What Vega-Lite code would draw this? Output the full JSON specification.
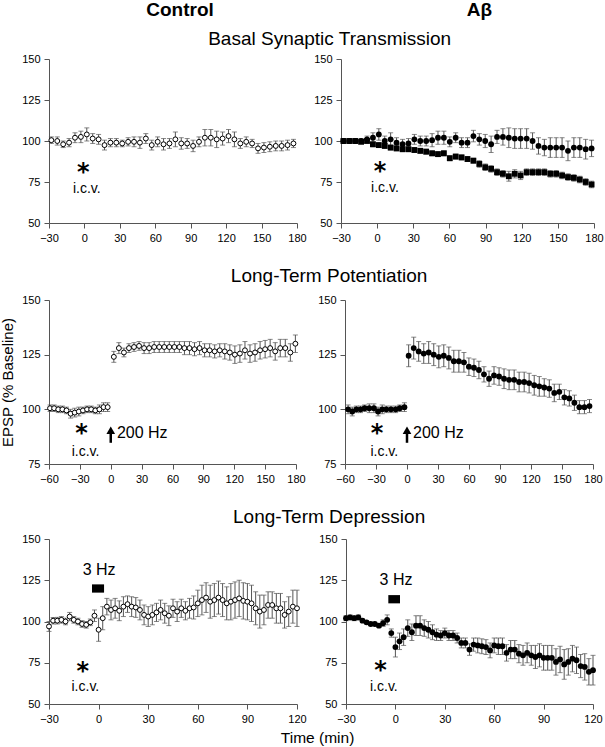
{
  "$schema": "https://vega.github.io/schema/vega-lite/v6.json",
  "padding": {"left": 0, "top": 1, "right": 0, "bottom": 0},
  "config": {
    "font": "Liberation Sans",
    "view": {"stroke": null},
    "axis": {"grid": false, "domainColor": "#555", "tickColor": "#555", "labelColor": "#000", "labelFontSize": 11, "tickSize": 5, "labelPadding": 4, "titleFontWeight": "normal", "titleColor": "#000", "labelFlush": false, "labelOverlap": false},
    "title": {"color": "#000", "fontWeight": "normal"}
  },
  "datasets": {
    "bc": [
      {"t":-28,"v":100.5,"e":2},{"t":-23,"v":100,"e":2.5},{"t":-18,"v":98,"e":2},{"t":-13,"v":99,"e":2.5},{"t":-8,"v":102,"e":3},{"t":-3,"v":102.5,"e":3.5},{"t":2,"v":104,"e":4},{"t":7,"v":101.5,"e":3},{"t":12,"v":101,"e":3},{"t":17,"v":97.5,"e":3},
      {"t":22,"v":99,"e":2.5},{"t":27,"v":99,"e":2.5},{"t":32,"v":98.5,"e":2},{"t":37,"v":99.5,"e":2.5},{"t":42,"v":99.5,"e":3},{"t":47,"v":99,"e":3.5},{"t":52,"v":101.5,"e":3},{"t":57,"v":97.5,"e":3},{"t":62,"v":99.5,"e":3},{"t":67,"v":98,"e":3.5},
      {"t":72,"v":98.5,"e":3},{"t":77,"v":101,"e":4.5},{"t":82,"v":98.5,"e":3.5},{"t":87,"v":98.5,"e":3},{"t":92,"v":97,"e":3.5},{"t":97,"v":99.5,"e":3},{"t":102,"v":102,"e":5},{"t":107,"v":102,"e":5},{"t":112,"v":101,"e":5},{"t":117,"v":101.5,"e":4},
      {"t":122,"v":103,"e":4},{"t":127,"v":101,"e":4.5},{"t":132,"v":98.5,"e":3},{"t":137,"v":99.5,"e":3},{"t":142,"v":98.5,"e":2.5},{"t":147,"v":95.5,"e":3},{"t":152,"v":96,"e":3},{"t":157,"v":96.5,"e":3},{"t":162,"v":97,"e":3},{"t":167,"v":97,"e":3},
      {"t":172,"v":97.5,"e":3},{"t":177,"v":98.5,"e":2.5}
    ],
    "ba": [
      {"s":"c","t":-28,"v":100,"e":1.5},{"s":"c","t":-23.1,"v":100,"e":1.5},{"s":"c","t":-18.2,"v":100,"e":1.5},{"s":"c","t":-13.3,"v":100,"e":1.5},{"s":"c","t":-8.4,"v":101,"e":2},{"s":"c","t":-3.5,"v":102,"e":3},{"s":"c","t":1.4,"v":104,"e":3.5},{"s":"c","t":6.3,"v":100,"e":3},{"s":"c","t":11.2,"v":101,"e":4},{"s":"c","t":16.1,"v":99,"e":3},
      {"s":"c","t":21.1,"v":98,"e":3},{"s":"c","t":26,"v":98.5,"e":3},{"s":"c","t":30.9,"v":101,"e":3},{"s":"c","t":35.8,"v":100,"e":3},{"s":"c","t":40.7,"v":100,"e":3},{"s":"c","t":45.6,"v":100.5,"e":4},{"s":"c","t":50.5,"v":102,"e":4},{"s":"c","t":55.4,"v":102,"e":4},{"s":"c","t":60.3,"v":99.5,"e":3},{"s":"c","t":65.2,"v":102,"e":3},
      {"s":"c","t":70.1,"v":99,"e":3},{"s":"c","t":75,"v":99,"e":3},{"s":"c","t":79.9,"v":103,"e":3.5},{"s":"c","t":84.8,"v":101,"e":3.5},{"s":"c","t":89.7,"v":100,"e":4},{"s":"c","t":94.6,"v":98,"e":5},{"s":"c","t":99.5,"v":102.5,"e":4},{"s":"c","t":104.4,"v":102.5,"e":5},{"s":"c","t":109.3,"v":102,"e":6},{"s":"c","t":114.2,"v":101.5,"e":6},
      {"s":"c","t":119.1,"v":101.5,"e":6},{"s":"c","t":124.1,"v":101.5,"e":6},{"s":"c","t":129,"v":100,"e":5},{"s":"c","t":133.9,"v":97,"e":5},{"s":"c","t":138.8,"v":96,"e":5},{"s":"c","t":143.7,"v":96,"e":6},{"s":"c","t":148.6,"v":96,"e":6},{"s":"c","t":153.5,"v":96,"e":6},{"s":"c","t":158.4,"v":94,"e":6},{"s":"c","t":163.3,"v":96,"e":6},
      {"s":"c","t":168.2,"v":96,"e":6},{"s":"c","t":173.1,"v":95,"e":6},{"s":"c","t":178,"v":95.5,"e":5},
      {"s":"q","t":-28,"v":100,"e":1},{"s":"q","t":-23.1,"v":100,"e":1},{"s":"q","t":-18.2,"v":100,"e":1},{"s":"q","t":-13.3,"v":99.5,"e":1},{"s":"q","t":-8.4,"v":100,"e":1},{"s":"q","t":-3.5,"v":98,"e":1.5},{"s":"q","t":1.4,"v":97.5,"e":1.5},{"s":"q","t":6.3,"v":97,"e":1.5},{"s":"q","t":11.2,"v":96,"e":1.5},{"s":"q","t":16.1,"v":95.5,"e":1.5},
      {"s":"q","t":21.1,"v":95,"e":1.5},{"s":"q","t":26,"v":95,"e":1.5},{"s":"q","t":30.9,"v":94.5,"e":1.5},{"s":"q","t":35.8,"v":94,"e":1.5},{"s":"q","t":40.7,"v":93.5,"e":1.5},{"s":"q","t":45.6,"v":92.5,"e":1.5},{"s":"q","t":50.5,"v":92,"e":1.5},{"s":"q","t":55.4,"v":92.5,"e":1.5},{"s":"q","t":60.3,"v":89.5,"e":1.5},{"s":"q","t":65.2,"v":90.5,"e":1.5},
      {"s":"q","t":70.1,"v":90,"e":1.5},{"s":"q","t":75,"v":89,"e":1.5},{"s":"q","t":79.9,"v":88,"e":1.5},{"s":"q","t":84.8,"v":86,"e":2},{"s":"q","t":89.7,"v":84,"e":2},{"s":"q","t":94.6,"v":83,"e":2},{"s":"q","t":99.5,"v":81,"e":2},{"s":"q","t":104.4,"v":80,"e":2},{"s":"q","t":109.3,"v":78.5,"e":3},{"s":"q","t":114.2,"v":80,"e":2.5},
      {"s":"q","t":119.1,"v":79,"e":2.5},{"s":"q","t":124.1,"v":81,"e":2},{"s":"q","t":129,"v":81,"e":2},{"s":"q","t":133.9,"v":81,"e":2},{"s":"q","t":138.8,"v":81,"e":2},{"s":"q","t":143.7,"v":80,"e":2},{"s":"q","t":148.6,"v":80,"e":2},{"s":"q","t":153.5,"v":79,"e":2},{"s":"q","t":158.4,"v":78,"e":2},{"s":"q","t":163.3,"v":77.5,"e":2},
      {"s":"q","t":168.2,"v":76.5,"e":2},{"s":"q","t":173.1,"v":75,"e":2},{"s":"q","t":178,"v":73.5,"e":2}
    ],
    "lc": [
      {"t":-59,"v":100.5,"e":1.5},{"t":-55,"v":100.5,"e":1.5},{"t":-51,"v":100,"e":1.5},{"t":-47,"v":100,"e":1.5},{"t":-43,"v":99.5,"e":1.5},{"t":-39,"v":98,"e":2},{"t":-35,"v":98.5,"e":2},{"t":-31,"v":99,"e":2},{"t":-27,"v":99.5,"e":1.5},{"t":-23,"v":100,"e":1.5},
      {"t":-19,"v":100,"e":1.5},{"t":-15,"v":99.5,"e":1.5},{"t":-11,"v":100,"e":2},{"t":-7,"v":101,"e":2},{"t":-3,"v":101,"e":2},
      {"t":3,"v":124,"e":2.5},{"t":7.9,"v":128,"e":2.5},{"t":12.8,"v":126,"e":2},{"t":17.7,"v":128,"e":2},{"t":22.6,"v":128.5,"e":2},{"t":27.5,"v":129,"e":2},{"t":32.4,"v":128,"e":2.5},{"t":37.3,"v":128,"e":2.5},{"t":42.2,"v":128.5,"e":2.5},{"t":47.1,"v":128.5,"e":2.5},
      {"t":52,"v":128.5,"e":2.5},{"t":56.9,"v":128.5,"e":2.5},{"t":61.8,"v":128.5,"e":2.5},{"t":66.7,"v":128.5,"e":2.5},{"t":71.6,"v":128,"e":3},{"t":76.5,"v":128,"e":3},{"t":81.4,"v":127.5,"e":3},{"t":86.3,"v":128,"e":3},{"t":91.2,"v":127,"e":3},{"t":96.1,"v":127,"e":3},
      {"t":101,"v":126.5,"e":3},{"t":105.9,"v":127,"e":3},{"t":110.8,"v":126.5,"e":3.5},{"t":115.7,"v":126,"e":3.5},{"t":120.6,"v":125,"e":4},{"t":125.5,"v":125.5,"e":4},{"t":130.4,"v":127,"e":4},{"t":135.3,"v":125.5,"e":4},{"t":140.2,"v":126,"e":4},{"t":145.1,"v":127,"e":4},
      {"t":150,"v":127.5,"e":4},{"t":154.9,"v":128,"e":4},{"t":159.8,"v":126.5,"e":4},{"t":164.7,"v":128,"e":4},{"t":169.6,"v":128,"e":4},{"t":174.5,"v":126,"e":4},{"t":179.4,"v":130,"e":4}
    ],
    "la": [
      {"t":-57,"v":100,"e":2},{"t":-53,"v":99,"e":2},{"t":-49,"v":100,"e":1.5},{"t":-45,"v":100,"e":1.5},{"t":-41,"v":100.5,"e":1.5},{"t":-36.5,"v":100.5,"e":2},{"t":-32,"v":100.5,"e":2},{"t":-28,"v":99,"e":2},{"t":-24,"v":100,"e":2},{"t":-20,"v":100,"e":1.5},
      {"t":-15.5,"v":100,"e":1.5},{"t":-11,"v":100,"e":1.5},{"t":-7,"v":100.5,"e":1.5},{"t":-2.5,"v":101,"e":2},
      {"t":1.6,"v":124.5,"e":5},{"t":6.5,"v":128,"e":5},{"t":11.3,"v":126.5,"e":4.5},{"t":16.2,"v":125.5,"e":4.5},{"t":21,"v":126,"e":5},{"t":25.9,"v":125,"e":5},{"t":30.8,"v":124,"e":5},{"t":35.6,"v":124.5,"e":5},{"t":40.5,"v":123.5,"e":5},{"t":45.3,"v":122,"e":5},
      {"t":50.2,"v":122,"e":5},{"t":55.1,"v":121.5,"e":4.5},{"t":59.9,"v":119.5,"e":4},{"t":64.8,"v":119,"e":4},{"t":69.6,"v":118,"e":4},{"t":74.5,"v":116,"e":3.5},{"t":79.4,"v":114,"e":3.5},{"t":84.2,"v":115.5,"e":4},{"t":89.1,"v":115,"e":4},{"t":93.9,"v":114,"e":4.5},
      {"t":98.8,"v":113.5,"e":4.5},{"t":103.7,"v":113.5,"e":4.5},{"t":108.5,"v":112.5,"e":4.5},{"t":113.4,"v":112.5,"e":4.5},{"t":118.2,"v":112,"e":4.5},{"t":123.1,"v":111,"e":4.5},{"t":128,"v":110.5,"e":4.5},{"t":132.8,"v":110,"e":4},{"t":137.7,"v":109.5,"e":4},{"t":142.5,"v":107.5,"e":4},
      {"t":147.4,"v":108,"e":3.5},{"t":152.3,"v":105.5,"e":3.5},{"t":157.1,"v":105,"e":3.5},{"t":162,"v":103,"e":3.5},{"t":166.8,"v":101,"e":3},{"t":171.7,"v":101,"e":3},{"t":176.6,"v":101.5,"e":3}
    ],
    "dc": [
      {"t":-30,"v":97,"e":3},{"t":-27.5,"v":100.5,"e":2},{"t":-25,"v":100.5,"e":2},{"t":-22.5,"v":101,"e":2},{"t":-20,"v":100,"e":2},{"t":-17.5,"v":103,"e":2.5},{"t":-15,"v":101,"e":2},{"t":-12.5,"v":100,"e":2},{"t":-10,"v":98.5,"e":2},{"t":-7.5,"v":98,"e":2},
      {"t":-5,"v":99.5,"e":2},{"t":-2.5,"v":103.5,"e":3.5},{"t":0,"v":95,"e":7},{"t":2.5,"v":102,"e":7},{"t":5,"v":109,"e":5},{"t":7.5,"v":107,"e":6},{"t":10,"v":108,"e":6},{"t":12.5,"v":106.5,"e":6},{"t":15,"v":109,"e":6},{"t":17.5,"v":110.5,"e":5},
      {"t":20,"v":109,"e":6},{"t":22.5,"v":108.5,"e":6},{"t":25,"v":107,"e":6},{"t":27.5,"v":104,"e":6},{"t":30,"v":103,"e":6},{"t":32.5,"v":104,"e":6},{"t":35,"v":105.5,"e":5.5},{"t":37.5,"v":107,"e":6},{"t":40,"v":105,"e":6},{"t":42.5,"v":103.5,"e":6},
      {"t":45,"v":108,"e":5.5},{"t":47.5,"v":106,"e":6},{"t":50,"v":108,"e":5.5},{"t":52.5,"v":106.5,"e":5.5},{"t":55,"v":108,"e":6},{"t":57.5,"v":108.5,"e":7},{"t":60,"v":111,"e":8},{"t":62.5,"v":113,"e":9},{"t":65,"v":114.5,"e":9},{"t":67.5,"v":112,"e":10},
      {"t":70,"v":113,"e":10},{"t":72.5,"v":114.5,"e":10},{"t":75,"v":113,"e":10},{"t":77.5,"v":111,"e":10},{"t":80,"v":112,"e":11},{"t":82.5,"v":113,"e":11},{"t":85,"v":114,"e":11},{"t":87.5,"v":112.5,"e":11},{"t":90,"v":112,"e":11},{"t":92.5,"v":111,"e":11},
      {"t":95,"v":108,"e":10},{"t":97.5,"v":106,"e":10},{"t":100,"v":107,"e":9},{"t":102.5,"v":110,"e":8},{"t":105,"v":110,"e":8},{"t":107.5,"v":108,"e":9},{"t":110,"v":108,"e":9},{"t":112.5,"v":104,"e":8},{"t":115,"v":106,"e":9},{"t":117.5,"v":109,"e":10},
      {"t":120,"v":108,"e":11}
    ],
    "da": [
      {"t":-30,"v":102,"e":1.5},{"t":-27.5,"v":102.5,"e":1.5},{"t":-25,"v":102,"e":1.5},{"t":-22.5,"v":102.5,"e":1.5},{"t":-20,"v":100.5,"e":1},{"t":-17.5,"v":99.5,"e":1},{"t":-15,"v":98.5,"e":1},{"t":-12.5,"v":98.5,"e":1},{"t":-10,"v":97.5,"e":1},{"t":-7.5,"v":99,"e":2},
      {"t":-5,"v":101,"e":3},{"t":-2.5,"v":93,"e":2.5},{"t":0,"v":84.5,"e":6},{"t":2.5,"v":88,"e":5},{"t":5,"v":90.5,"e":5},{"t":7.5,"v":96,"e":5},{"t":10,"v":93.5,"e":5},{"t":12.5,"v":97.5,"e":6},{"t":15,"v":97.5,"e":6},{"t":17.5,"v":96,"e":5},
      {"t":20,"v":95,"e":5},{"t":22.5,"v":93.5,"e":4.5},{"t":25,"v":92,"e":3.5},{"t":27.5,"v":91.5,"e":3},{"t":30,"v":93,"e":3},{"t":32.5,"v":91.5,"e":3},{"t":35,"v":91.5,"e":3},{"t":37.5,"v":90,"e":3},{"t":40,"v":87,"e":3},{"t":42.5,"v":87,"e":3},
      {"t":45,"v":83,"e":3.5},{"t":47.5,"v":86,"e":4},{"t":50,"v":85.5,"e":4.5},{"t":52.5,"v":85,"e":4.5},{"t":55,"v":84.5,"e":4.5},{"t":57.5,"v":82.5,"e":4.5},{"t":60,"v":85.5,"e":4.5},{"t":62.5,"v":85,"e":5},{"t":65,"v":85,"e":5},{"t":67.5,"v":81,"e":5},
      {"t":70,"v":83,"e":5.5},{"t":72.5,"v":83,"e":5.5},{"t":75,"v":80.5,"e":5.5},{"t":77.5,"v":79.5,"e":6},{"t":80,"v":81,"e":6},{"t":82.5,"v":79.5,"e":6},{"t":85,"v":78.5,"e":7},{"t":87.5,"v":79.5,"e":7},{"t":90,"v":78,"e":7.5},{"t":92.5,"v":78,"e":7.5},
      {"t":95,"v":78,"e":7.5},{"t":97.5,"v":75.5,"e":8},{"t":100,"v":77,"e":8},{"t":102.5,"v":74,"e":9},{"t":105,"v":75.5,"e":8},{"t":107.5,"v":77.5,"e":8},{"t":110,"v":76.5,"e":8},{"t":112.5,"v":73,"e":7},{"t":115,"v":72.5,"e":8},{"t":117.5,"v":69.5,"e":8},
      {"t":120,"v":70.5,"e":9}
    ],
    "ann": [
      {"p":"bc","k":"star","t":-1,"v":83.5,"label":"*"},
      {"p":"bc","k":"icv","t":2,"v":71,"label":"i.c.v."},
      {"p":"ba","k":"star","t":2.5,"v":84,"label":"*"},
      {"p":"ba","k":"icv","t":6.5,"v":71.5,"label":"i.c.v."},
      {"p":"lc","k":"star","t":-28.5,"v":91,"label":"*"},
      {"p":"lc","k":"icv","t":-24.5,"v":80.3,"label":"i.c.v."},
      {"p":"lc","k":"hzl","t":6,"v":89,"label":"200 Hz"},
      {"p":"lc","k":"shaft","t":0,"v":84.7,"v2":89},
      {"p":"lc","k":"head","t":0,"v":90.4},
      {"p":"la","k":"star","t":-29,"v":91,"label":"*"},
      {"p":"la","k":"icv","t":-22,"v":80.3,"label":"i.c.v."},
      {"p":"la","k":"hzl","t":5.8,"v":89,"label":"200 Hz"},
      {"p":"la","k":"shaft","t":0,"v":84.7,"v2":89},
      {"p":"la","k":"head","t":0,"v":90.4},
      {"p":"dc","k":"hzc","t":0.3,"v":131.5,"label":"3 Hz"},
      {"p":"dc","k":"block","t":-4,"t2":3.3,"v":117.5,"v2":122.5},
      {"p":"dc","k":"star","t":-9.6,"v":72.6,"label":"*"},
      {"p":"dc","k":"icv","t":-8,"v":60.3,"label":"i.c.v."},
      {"p":"da","k":"hzc","t":0.4,"v":125,"label":"3 Hz"},
      {"p":"da","k":"block","t":-4.3,"t2":2.8,"v":111,"v2":116},
      {"p":"da","k":"star","t":-9.1,"v":73,"label":"*"},
      {"p":"da","k":"icv","t":-7,"v":60.3,"label":"i.c.v."}
    ]
  },
  "title": {"text": "Time (min)", "orient": "bottom", "fontSize": 15.5, "offset": 7, "dx": 16, "anchor": "middle"},
  "spacing": 24,
  "vconcat": [
    {
      "hconcat": [
        {
          "width": 248, "height": 164,
          "title": {"text": "Control", "fontSize": 19, "fontWeight": "bold", "offset": 33, "frame": "group", "dx": 7},
          "encoding": {
            "x": {"field": "t", "type": "quantitative", "title": null, "scale": {"domain": [-30, 180], "nice": false, "zero": false}, "axis": {"values": [-30, 0, 30, 60, 90, 120, 150, 180]}},
            "y": {"field": "v", "type": "quantitative", "title": null, "scale": {"domain": [50, 150], "nice": false, "zero": false}, "axis": {"values": [50, 75, 100, 125, 150], "minExtent": 49, "maxExtent": 49}}
          },
          "layer": [
            {"data": {"name": "bc"}, "mark": {"type": "errorbar", "ticks": {"size": 5}, "color": "#555"}, "encoding": {"yError": {"field": "e"}}},
            {"data": {"name": "bc"}, "mark": {"type": "point", "shape": "circle", "filled": true, "fill": "white", "stroke": "black", "strokeWidth": 1, "size": 24, "opacity": 1}},
            {"data": {"name": "ann"}, "transform": [{"filter": "datum.p == 'bc' && datum.k == 'star'"}], "mark": {"type": "text", "font": "DejaVu Sans", "fontWeight": "bold", "fontSize": 24, "baseline": "middle", "dy": 5}, "encoding": {"text": {"field": "label"}}},
            {"data": {"name": "ann"}, "transform": [{"filter": "datum.p == 'bc' && datum.k == 'icv'"}], "mark": {"type": "text", "fontSize": 14, "baseline": "middle"}, "encoding": {"text": {"field": "label"}}}
          ]
        },
        {
          "width": 253, "height": 164,
          "title": {"text": "Aβ", "fontSize": 19, "fontWeight": "bold", "offset": 33, "frame": "group", "dx": 12},
          "encoding": {
            "x": {"field": "t", "type": "quantitative", "title": null, "scale": {"domain": [-30, 180], "nice": false, "zero": false}, "axis": {"values": [-30, 0, 30, 60, 90, 120, 150, 180]}},
            "y": {"field": "v", "type": "quantitative", "title": null, "scale": {"domain": [50, 150], "nice": false, "zero": false}, "axis": {"values": [50, 75, 100, 125, 150]}}
          },
          "layer": [
            {"data": {"name": "ba"}, "mark": {"type": "errorbar", "ticks": {"size": 5}, "color": "#555"}, "encoding": {"yError": {"field": "e"}}},
            {"data": {"name": "ba"}, "mark": {"type": "point", "filled": true, "color": "black", "size": 34, "opacity": 1}, "encoding": {"shape": {"field": "s", "type": "nominal", "scale": {"domain": ["c", "q"], "range": ["circle", "square"]}, "legend": null}}},
            {"data": {"name": "ann"}, "transform": [{"filter": "datum.p == 'ba' && datum.k == 'star'"}], "mark": {"type": "text", "font": "DejaVu Sans", "fontWeight": "bold", "fontSize": 24, "baseline": "middle", "dy": 5}, "encoding": {"text": {"field": "label"}}},
            {"data": {"name": "ann"}, "transform": [{"filter": "datum.p == 'ba' && datum.k == 'icv'"}], "mark": {"type": "text", "fontSize": 14, "baseline": "middle"}, "encoding": {"text": {"field": "label"}}}
          ]
        }
      ],
      "spacing": 44,
      "bounds": "flush",
      "title": {"text": "Basal Synaptic Transmission", "fontSize": 19, "offset": -48, "dx": 28, "anchor": "middle"}
    },
    {
      "hconcat": [
        {
          "width": 247, "height": 164,
          "encoding": {
            "x": {"field": "t", "type": "quantitative", "title": null, "scale": {"domain": [-60, 180], "nice": false, "zero": false}, "axis": {"values": [-60, -30, 0, 30, 60, 90, 120, 150, 180]}},
            "y": {"field": "v", "type": "quantitative", "scale": {"domain": [75, 150], "nice": false, "zero": false}, "axis": {"values": [75, 100, 125, 150], "title": "EPSP (% Baseline)", "titleFontSize": 15, "titlePadding": 4, "minExtent": 30, "maxExtent": 30}}
          },
          "layer": [
            {"data": {"name": "lc"}, "mark": {"type": "errorbar", "ticks": {"size": 5}, "color": "#555"}, "encoding": {"yError": {"field": "e"}}},
            {"data": {"name": "lc"}, "mark": {"type": "point", "shape": "circle", "filled": true, "fill": "white", "stroke": "black", "strokeWidth": 1, "size": 24, "opacity": 1}},
            {"data": {"name": "ann"}, "transform": [{"filter": "datum.p == 'lc' && datum.k == 'star'"}], "mark": {"type": "text", "font": "DejaVu Sans", "fontWeight": "bold", "fontSize": 24, "baseline": "middle", "dy": 5}, "encoding": {"text": {"field": "label"}}},
            {"data": {"name": "ann"}, "transform": [{"filter": "datum.p == 'lc' && datum.k == 'icv'"}], "mark": {"type": "text", "fontSize": 14, "baseline": "middle"}, "encoding": {"text": {"field": "label"}}},
            {"data": {"name": "ann"}, "transform": [{"filter": "datum.p == 'lc' && datum.k == 'hzl'"}], "mark": {"type": "text", "fontSize": 16, "baseline": "middle", "align": "left"}, "encoding": {"text": {"field": "label"}}},
            {"data": {"name": "ann"}, "transform": [{"filter": "datum.p == 'lc' && datum.k == 'shaft'"}], "mark": {"type": "rule", "strokeWidth": 2.5, "color": "black"}, "encoding": {"y2": {"field": "v2"}}},
            {"data": {"name": "ann"}, "transform": [{"filter": "datum.p == 'lc' && datum.k == 'head'"}], "mark": {"type": "point", "shape": "triangle-up", "filled": true, "color": "black", "size": 75, "opacity": 1}}
          ]
        },
        {
          "width": 248, "height": 164,
          "encoding": {
            "x": {"field": "t", "type": "quantitative", "title": null, "scale": {"domain": [-60, 180], "nice": false, "zero": false}, "axis": {"values": [-60, -30, 0, 30, 60, 90, 120, 150, 180]}},
            "y": {"field": "v", "type": "quantitative", "title": null, "scale": {"domain": [75, 150], "nice": false, "zero": false}, "axis": {"values": [75, 100, 125, 150]}}
          },
          "layer": [
            {"data": {"name": "la"}, "mark": {"type": "errorbar", "ticks": {"size": 5}, "color": "#555"}, "encoding": {"yError": {"field": "e"}}},
            {"data": {"name": "la"}, "mark": {"type": "point", "shape": "circle", "filled": true, "color": "black", "size": 34, "opacity": 1}},
            {"data": {"name": "ann"}, "transform": [{"filter": "datum.p == 'la' && datum.k == 'star'"}], "mark": {"type": "text", "font": "DejaVu Sans", "fontWeight": "bold", "fontSize": 24, "baseline": "middle", "dy": 5}, "encoding": {"text": {"field": "label"}}},
            {"data": {"name": "ann"}, "transform": [{"filter": "datum.p == 'la' && datum.k == 'icv'"}], "mark": {"type": "text", "fontSize": 14, "baseline": "middle"}, "encoding": {"text": {"field": "label"}}},
            {"data": {"name": "ann"}, "transform": [{"filter": "datum.p == 'la' && datum.k == 'hzl'"}], "mark": {"type": "text", "fontSize": 16, "baseline": "middle", "align": "left"}, "encoding": {"text": {"field": "label"}}},
            {"data": {"name": "ann"}, "transform": [{"filter": "datum.p == 'la' && datum.k == 'shaft'"}], "mark": {"type": "rule", "strokeWidth": 2.5, "color": "black"}, "encoding": {"y2": {"field": "v2"}}},
            {"data": {"name": "ann"}, "transform": [{"filter": "datum.p == 'la' && datum.k == 'head'"}], "mark": {"type": "point", "shape": "triangle-up", "filled": true, "color": "black", "size": 75, "opacity": 1}}
          ]
        }
      ],
      "spacing": 49,
      "bounds": "flush",
      "title": {"text": "Long-Term Potentiation", "fontSize": 19, "offset": 8, "dx": 28, "anchor": "middle"}
    },
    {
      "hconcat": [
        {
          "width": 248, "height": 165,
          "encoding": {
            "x": {"field": "t", "type": "quantitative", "title": null, "scale": {"domain": [-30, 120], "nice": false, "zero": false}, "axis": {"values": [-30, 0, 30, 60, 90, 120]}},
            "y": {"field": "v", "type": "quantitative", "title": null, "scale": {"domain": [50, 150], "nice": false, "zero": false}, "axis": {"values": [50, 75, 100, 125, 150], "minExtent": 49, "maxExtent": 49}}
          },
          "layer": [
            {"data": {"name": "dc"}, "mark": {"type": "errorbar", "ticks": {"size": 5}, "color": "#555"}, "encoding": {"yError": {"field": "e"}}},
            {"data": {"name": "dc"}, "mark": {"type": "point", "shape": "circle", "filled": true, "fill": "white", "stroke": "black", "strokeWidth": 1, "size": 24, "opacity": 1}},
            {"data": {"name": "ann"}, "transform": [{"filter": "datum.p == 'dc' && datum.k == 'block'"}], "mark": {"type": "rect", "color": "black"}, "encoding": {"x2": {"field": "t2"}, "y2": {"field": "v2"}}},
            {"data": {"name": "ann"}, "transform": [{"filter": "datum.p == 'dc' && datum.k == 'hzc'"}], "mark": {"type": "text", "fontSize": 16, "baseline": "middle", "align": "center"}, "encoding": {"text": {"field": "label"}}},
            {"data": {"name": "ann"}, "transform": [{"filter": "datum.p == 'dc' && datum.k == 'star'"}], "mark": {"type": "text", "font": "DejaVu Sans", "fontWeight": "bold", "fontSize": 24, "baseline": "middle", "dy": 5}, "encoding": {"text": {"field": "label"}}},
            {"data": {"name": "ann"}, "transform": [{"filter": "datum.p == 'dc' && datum.k == 'icv'"}], "mark": {"type": "text", "fontSize": 14, "baseline": "middle"}, "encoding": {"text": {"field": "label"}}}
          ]
        },
        {
          "width": 247, "height": 165,
          "encoding": {
            "x": {"field": "t", "type": "quantitative", "title": null, "scale": {"domain": [-30, 120], "nice": false, "zero": false}, "axis": {"values": [-30, 0, 30, 60, 90, 120]}},
            "y": {"field": "v", "type": "quantitative", "title": null, "scale": {"domain": [50, 150], "nice": false, "zero": false}, "axis": {"values": [50, 75, 100, 125, 150]}}
          },
          "layer": [
            {"data": {"name": "da"}, "mark": {"type": "errorbar", "ticks": {"size": 5}, "color": "#555"}, "encoding": {"yError": {"field": "e"}}},
            {"data": {"name": "da"}, "mark": {"type": "point", "shape": "circle", "filled": true, "color": "black", "size": 34, "opacity": 1}},
            {"data": {"name": "ann"}, "transform": [{"filter": "datum.p == 'da' && datum.k == 'block'"}], "mark": {"type": "rect", "color": "black"}, "encoding": {"x2": {"field": "t2"}, "y2": {"field": "v2"}}},
            {"data": {"name": "ann"}, "transform": [{"filter": "datum.p == 'da' && datum.k == 'hzc'"}], "mark": {"type": "text", "fontSize": 16, "baseline": "middle", "align": "center"}, "encoding": {"text": {"field": "label"}}},
            {"data": {"name": "ann"}, "transform": [{"filter": "datum.p == 'da' && datum.k == 'star'"}], "mark": {"type": "text", "font": "DejaVu Sans", "fontWeight": "bold", "fontSize": 24, "baseline": "middle", "dy": 5}, "encoding": {"text": {"field": "label"}}},
            {"data": {"name": "ann"}, "transform": [{"filter": "datum.p == 'da' && datum.k == 'icv'"}], "mark": {"type": "text", "fontSize": 14, "baseline": "middle"}, "encoding": {"text": {"field": "label"}}}
          ]
        }
      ],
      "spacing": 49,
      "bounds": "flush",
      "title": {"text": "Long-Term Depression", "fontSize": 19, "offset": 6, "dx": 28, "anchor": "middle"}
    }
  ]
}
